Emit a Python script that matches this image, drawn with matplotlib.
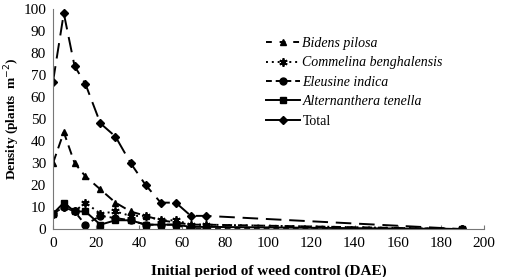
import matplotlib
matplotlib.use("Agg")
import matplotlib.pyplot as plt
from matplotlib.lines import Line2D

plt.rcParams['font.family'] = ['Liberation Serif', 'DejaVu Serif']

# days after emergence
dae = [0, 5, 10, 15, 22, 29, 36, 43, 50, 57, 64, 71, 190]

bidens = [30, 44, 30, 24, 18, 12, 8, 6, 4, 3, 2, 2, 0]
commelina = [7, 10, 8, 12, 7, 8, 6, 6, 4, 4, 2, 2, 0]
eleusine = [7, 10, 8, 2, 6, 5, 4, 2, 2, 2, 0, 0, 0]
alternanthera = [7, 12, 8, 8, 2, 4, 4, 2, 2, 2, 1, 1, 0]
total = [67, 98, 74, 66, 48, 42, 30, 20, 12, 12, 6, 6, 0]

names = ['Bidens pilosa', 'Commelina benghalensis', 'Eleusine indica',
         'Alternanthera tenella', 'Total']

fig = plt.figure(figsize=(5.05, 2.77), dpi=100)
ax = fig.add_axes([0.105, 0.173, 0.853, 0.795])

lw = 1.4
ax.plot(dae, bidens, color='black', lw=lw, ls=(0, (5, 3)), marker='^', ms=5)
ax.plot(dae, commelina, color='black', lw=lw, ls=(0, (1, 2)), marker=(6, 2, 0), ms=6, mew=1.3)
ax.plot(dae, eleusine, color='black', lw=lw, ls=(0, (3, 2)), marker='o', ms=5)
ax.plot(dae, alternanthera, color='black', lw=lw, ls='-', marker='s', ms=5)
ax.plot(dae, total, color='black', lw=lw, ls=(0, (8, 4)), marker='D', ms=4.5)

handles = [
    Line2D([], [], color='black', lw=lw, ls=(0, (3, 4)), marker='^', ms=5),
    Line2D([], [], color='black', lw=lw, ls=(0, (1, 2)), marker=(6, 2, 0), ms=6, mew=1.3),
    Line2D([], [], color='black', lw=lw, ls=(0, (3, 2)), marker='o', ms=5),
    Line2D([], [], color='black', lw=lw, ls='-', marker='s', ms=5),
    Line2D([], [], color='black', lw=lw, ls='-', marker='D', ms=4.5),
]
leg = ax.legend(handles, names, loc='upper left', bbox_to_anchor=(0.482, 0.897),
                frameon=False, fontsize=10, handlelength=2.4, handletextpad=0.2,
                labelspacing=0.46, borderaxespad=0)
for i, t in enumerate(leg.get_texts()):
    if i < 4:
        t.set_style('italic')

ax.set_xlim(0, 200)
ax.set_ylim(0, 100)
ax.set_xticks(range(0, 201, 20))
ax.set_yticks(range(0, 101, 10))
ax.tick_params(axis='x', direction='in', length=3, labelsize=11, pad=6, color='#777777')
ax.tick_params(axis='y', length=0, labelsize=11, pad=5)
for s in ['top', 'right']:
    ax.spines[s].set_visible(False)
for s in ['left', 'bottom']:
    ax.spines[s].set_color('#777777')
    ax.spines[s].set_linewidth(0.8)

ax.set_xlabel('Initial period of weed control (DAE)', fontsize=11, fontweight='bold', labelpad=10)
ax.set_ylabel('Density (plants  m$^{-2}$)', fontsize=9.5, fontweight='bold', labelpad=1)

fig.savefig('out.png', dpi=100)
